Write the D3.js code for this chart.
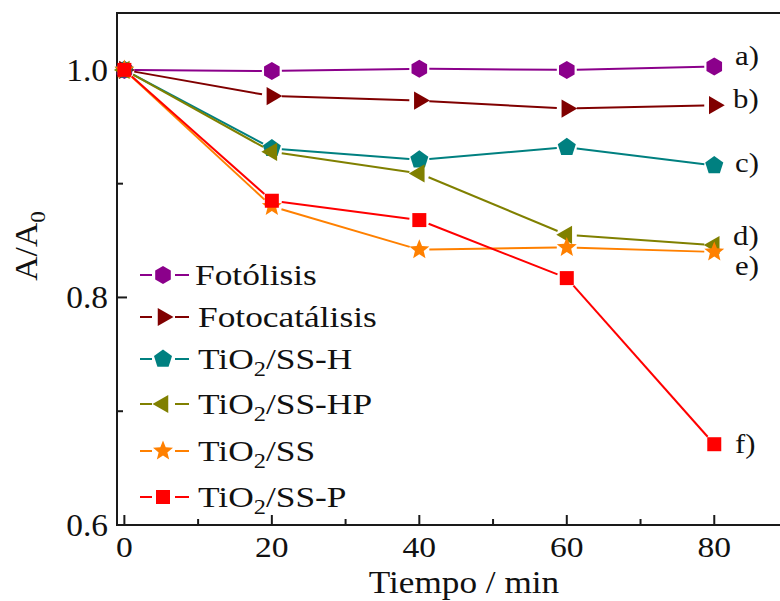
<!DOCTYPE html>
<html>
<head>
<meta charset="utf-8">
<script src="https://cdn.jsdelivr.net/npm/d3@7"></script>
<style>
  html, body { margin: 0; padding: 0; background: #ffffff; }
  svg { display: block; }
  text { font-family: "Liberation Serif", "Times New Roman", serif; fill: #111; }
</style>
</head>
<body>
<svg id="chart" width="780" height="601"></svg>
<script>
// Sampling times (min)
const times = [0, 20, 40, 60, 80];

// Normalised absorbance A/A0 for each treatment
const fotolisis     = [1.000, 0.999, 1.001, 1.000, 1.003];
const fotocatalisis = [1.000, 0.977, 0.973, 0.966, 0.969];
const tio2SSH       = [1.000, 0.931, 0.921, 0.932, 0.916];
const tio2SSHP      = [1.000, 0.928, 0.909, 0.855, 0.846];
const tio2SS        = [1.000, 0.880, 0.842, 0.844, 0.840];
const tio2SSP       = [1.000, 0.885, 0.868, 0.817, 0.671];

// Series names (main text + optional subscript part) and end labels
const seriesNames = [
  ["Fotólisis"], ["Fotocatálisis"],
  ["TiO", "2", "/SS-H"], ["TiO", "2", "/SS-HP"], ["TiO", "2", "/SS"], ["TiO", "2", "/SS-P"]
];
const endLabels = ["a)", "b)", "c)", "d)", "e)", "f)"];

// Axis ticks
const xMajorTicks = [0, 20, 40, 60, 80];
const xMinorTicks = [10, 30, 50, 70];
const yMajorTicks = [0.6, 0.8, 1.0];
const yMinorTicks = [0.7, 0.9];

const seriesValues = [fotolisis, fotocatalisis, tio2SSH, tio2SSHP, tio2SS, tio2SSP];
const colors  = ["#8b008b", "#800000", "#008080", "#808000", "#ff8000", "#ff0000"];
const shapes  = ["hexagon", "triangleRight", "pentagon", "triangleLeft", "star", "square"];

const svg = d3.select("#chart");

const x = d3.scaleLinear().domain([-1, 90]).range([117, 788]);
const y = d3.scaleLinear().domain([0.6, 1.05]).range([525, 13]);

// Marker path generator (centred on 0,0)
function poly(n, r, rot) {
  const pts = d3.range(n).map(i => {
    const a = rot + i * 2 * Math.PI / n;
    return [r * Math.cos(a), r * Math.sin(a)];
  });
  return "M" + pts.map(p => p.join(",")).join("L") + "Z";
}
function starPath(ro, ri) {
  const pts = d3.range(10).map(i => {
    const r = i % 2 ? ri : ro;
    const a = -Math.PI / 2 + i * Math.PI / 5;
    return [r * Math.cos(a), r * Math.sin(a)];
  });
  return "M" + pts.map(p => p.join(",")).join("L") + "Z";
}
function markerPath(shape) {
  switch (shape) {
    case "hexagon":       return poly(6, 9, -Math.PI / 2);
    case "triangleRight": return poly(3, 10.5, 0);
    case "triangleLeft":  return poly(3, 10.5, Math.PI);
    case "pentagon":      return poly(5, 9.5, -Math.PI / 2);
    case "star":          return starPath(10.5, 4.6);
    case "square":        return "M-7,-7L7,-7L7,7L-7,7Z";
  }
}

// Axes frame
const axisColor = "#1a1a1a";
svg.append("line").attr("x1", x(-1)).attr("x2", 780).attr("y1", y(0.6)).attr("y2", y(0.6))
  .attr("stroke", axisColor).attr("stroke-width", 2);
svg.append("line").attr("x1", x(-1)).attr("x2", 780).attr("y1", y(1.05)).attr("y2", y(1.05))
  .attr("stroke", axisColor).attr("stroke-width", 2);
svg.append("line").attr("x1", x(-1)).attr("x2", x(-1)).attr("y1", y(1.05) - 1).attr("y2", y(0.6) + 1)
  .attr("stroke", axisColor).attr("stroke-width", 2);

// Inward ticks
svg.selectAll(".xmaj").data(xMajorTicks).join("line")
  .attr("x1", d => x(d)).attr("x2", d => x(d)).attr("y1", y(0.6)).attr("y2", y(0.6) - 10)
  .attr("stroke", axisColor).attr("stroke-width", 2);
svg.selectAll(".xmin").data(xMinorTicks).join("line")
  .attr("x1", d => x(d)).attr("x2", d => x(d)).attr("y1", y(0.6)).attr("y2", y(0.6) - 6)
  .attr("stroke", axisColor).attr("stroke-width", 2);
svg.selectAll(".ymaj").data(yMajorTicks).join("line")
  .attr("x1", x(-1)).attr("x2", x(-1) + 10).attr("y1", d => y(d)).attr("y2", d => y(d))
  .attr("stroke", axisColor).attr("stroke-width", 2);
svg.selectAll(".ymin").data(yMinorTicks).join("line")
  .attr("x1", x(-1)).attr("x2", x(-1) + 6).attr("y1", d => y(d)).attr("y2", d => y(d))
  .attr("stroke", axisColor).attr("stroke-width", 2);

// Tick labels
svg.selectAll(".xlab").data(xMajorTicks).join("text")
  .attr("transform", d => `translate(${x(d)},557) scale(1.12,1)`)
  .attr("text-anchor", "middle").attr("font-size", 30).text(d => d);
svg.selectAll(".ylab").data(yMajorTicks).join("text")
  .attr("transform", d => `translate(108,${y(d) + 11}) scale(1.08,1)`)
  .attr("text-anchor", "end").attr("font-size", 31).text(d => d.toFixed(1));

// Axis titles
svg.append("text")
  .attr("transform", "translate(464,593) scale(1.1,1)")
  .attr("text-anchor", "middle").attr("font-size", 32).text("Tiempo / min");
const yt = svg.append("text")
  .attr("transform", "translate(37,246) rotate(-90) scale(1.05,1)")
  .attr("text-anchor", "middle").attr("font-size", 32);
yt.append("tspan").text("A/A");
yt.append("tspan").attr("font-size", 22).attr("dy", 8).text("0");

// Series: lines broken around each marker, then markers
const gap = 10;
seriesValues.forEach((vals, si) => {
  const pts = times.map((t, i) => [x(t), y(vals[i])]);
  const g = svg.append("g");
  for (let i = 0; i < pts.length - 1; i++) {
    const [x0, y0] = pts[i], [x1, y1] = pts[i + 1];
    const len = Math.hypot(x1 - x0, y1 - y0);
    const ux = (x1 - x0) / len, uy = (y1 - y0) / len;
    g.append("line")
      .attr("x1", x0 + ux * gap).attr("y1", y0 + uy * gap)
      .attr("x2", x1 - ux * gap).attr("y2", y1 - uy * gap)
      .attr("stroke", colors[si]).attr("stroke-width", 2);
  }
  g.selectAll("path").data(pts).join("path")
    .attr("d", markerPath(shapes[si]))
    .attr("transform", p => `translate(${p[0]},${p[1]})`)
    .attr("fill", colors[si]);
});

// End-of-curve labels
const endLabelPos = [[735, 65], [733, 108], [735, 172], [733, 245], [735, 275], [735, 453]];
endLabels.forEach((lab, i) => {
  svg.append("text")
    .attr("transform", `translate(${endLabelPos[i][0]},${endLabelPos[i][1]}) scale(1.1,1)`)
    .attr("font-size", 28).text(lab);
});

// Legend
const legendRows = [275, 317, 359, 404, 451, 497];
seriesNames.forEach((name, i) => {
  const cy = legendRows[i];
  const g = svg.append("g");
  g.append("line").attr("x1", 140).attr("x2", 152).attr("y1", cy).attr("y2", cy)
    .attr("stroke", colors[i]).attr("stroke-width", 2);
  g.append("line").attr("x1", 175).attr("x2", 189).attr("y1", cy).attr("y2", cy)
    .attr("stroke", colors[i]).attr("stroke-width", 2);
  g.append("path").attr("d", markerPath(shapes[i]))
    .attr("transform", `translate(163,${cy})`).attr("fill", colors[i]);
  const t = g.append("text")
    .attr("transform", `translate(${i === 0 ? 195 : 198},${cy + 10}) scale(1.22,1)`)
    .attr("font-size", 29);
  t.append("tspan").text(name[0]);
  if (name.length > 1) {
    t.append("tspan").attr("font-size", 20).attr("dy", 7).text(name[1]);
    t.append("tspan").attr("dy", -7).text(name[2]);
  }
});
</script>
</body>
</html>
